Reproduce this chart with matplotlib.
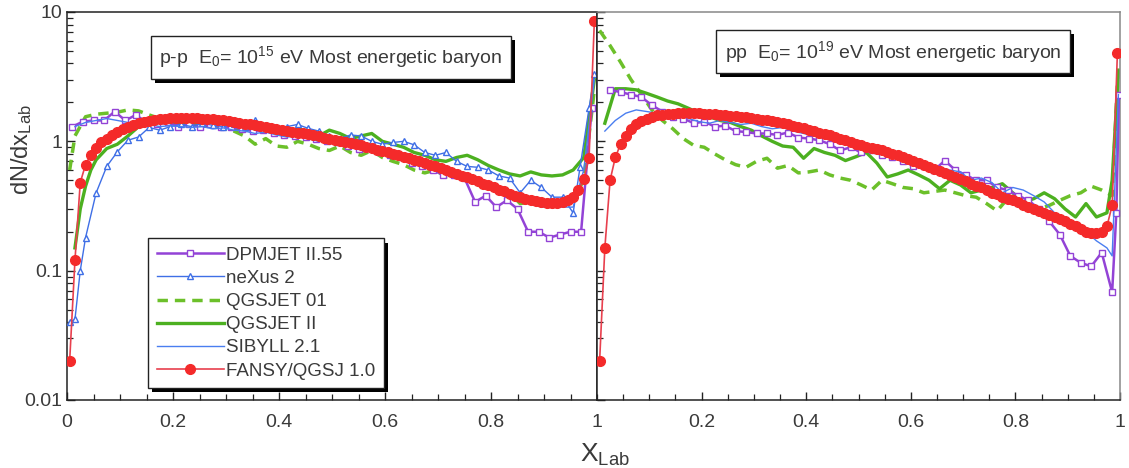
import numpy as np
import matplotlib
matplotlib.use("Agg")
import matplotlib.pyplot as plt
from matplotlib import patheffects as pe
from matplotlib.ticker import MultipleLocator, FixedLocator, NullFormatter, LogLocator

plt.rcParams['font.family'] = ['Liberation Sans', 'DejaVu Sans']
plt.rcParams['mathtext.fontset'] = 'custom'
plt.rcParams['mathtext.rm'] = 'Liberation Sans'
plt.rcParams['mathtext.it'] = 'Liberation Sans:italic'

# ---------------- data: left panel (E0 = 1e15 eV) ----------------
FANSY_L_X = np.round(np.arange(0.005, 1.0, 0.01), 3)
FANSY_L_Y = [0.02, 0.12, 0.48, 0.66, 0.79, 0.89, 0.98, 1.05, 1.12, 1.18,
             1.24, 1.29, 1.34, 1.38, 1.41, 1.44, 1.46, 1.48, 1.50, 1.51,
             1.52, 1.52, 1.52, 1.52, 1.51, 1.50, 1.49, 1.48, 1.46, 1.45,
             1.43, 1.41, 1.39, 1.37, 1.35, 1.33, 1.31, 1.29, 1.27, 1.25,
             1.23, 1.21, 1.19, 1.17, 1.15, 1.13, 1.11, 1.09, 1.07, 1.05,
             1.03, 1.01, 0.99, 0.97, 0.95, 0.93, 0.91, 0.89, 0.86, 0.84,
             0.82, 0.80, 0.78, 0.76, 0.74, 0.72, 0.70, 0.68, 0.66, 0.64,
             0.62, 0.60, 0.58, 0.56, 0.54, 0.53, 0.51, 0.49, 0.47, 0.46,
             0.44, 0.42, 0.41, 0.39, 0.38, 0.37, 0.36, 0.35, 0.345, 0.34,
             0.335, 0.335, 0.335, 0.34, 0.35, 0.37, 0.42, 0.51, 0.74, 8.5]

DPMJET_L_X = np.round(np.arange(0.01, 1.0, 0.02), 3)
DPMJET_L_Y = [1.3, 1.42, 1.45, 1.45, 1.7, 1.45, 1.6, 1.4, 1.35, 1.4,
              1.3, 1.35, 1.3, 1.35, 1.3, 1.28, 1.25, 1.2, 1.22, 1.15,
              1.12, 1.1, 1.08, 1.05, 1.0, 0.98, 0.92, 0.88, 0.9, 0.82,
              0.78, 0.75, 0.68, 0.65, 0.6, 0.55, 0.55, 0.52, 0.34, 0.38,
              0.31, 0.35, 0.3, 0.2, 0.2, 0.18, 0.19, 0.2, 0.2, 1.8]

NEXUS_L_X = np.round(np.concatenate([[0.005, 0.015, 0.025, 0.035],
                                     np.arange(0.055, 0.96, 0.02),
                                     [0.968, 0.985, 0.995]]), 3)
NEXUS_L_Y = [0.04, 0.042, 0.1, 0.18,
             0.4, 0.64, 0.83, 1.02, 1.08, 1.28, 1.22, 1.3, 1.35, 1.3,
             1.38, 1.33, 1.3, 1.35, 1.3, 1.45, 1.28, 1.25, 1.3, 1.35,
             1.26, 1.2, 1.1, 1.05, 1.12, 1.1, 1.0, 0.95, 0.98, 1.0,
             0.94, 0.82, 0.78, 0.82, 0.7, 0.64, 0.63, 0.6, 0.54, 0.52,
             0.4, 0.5, 0.44, 0.37, 0.37, 0.28,
             0.63, 1.8, 3.3]

QGSII_L_X = np.round(np.concatenate([[0.015, 0.025, 0.035, 0.045],
                                     np.arange(0.055, 0.96, 0.02),
                                     [0.975, 0.985, 0.995]]), 3)
QGSII_L_Y = [0.15, 0.3, 0.45, 0.6,
             0.72, 0.88, 0.95, 1.1, 1.3, 1.35, 1.5, 1.42, 1.35, 1.4,
             1.32, 1.35, 1.38, 1.25, 1.2, 1.3, 1.22, 1.15, 1.12, 1.25,
             1.2, 1.1, 1.22, 1.15, 1.05, 1.1, 1.15, 1.0, 0.95, 0.9,
             0.82, 0.78, 0.72, 0.7, 0.75, 0.78, 0.72, 0.65, 0.6, 0.56,
             0.54, 0.58, 0.55, 0.54, 0.55, 0.6,
             0.75, 1.5, 3.0]

QGS01_L_X = np.round(np.concatenate([[0.005, 0.015],
                                     np.arange(0.035, 0.96, 0.02),
                                     [0.975, 0.995]]), 3)
QGS01_L_Y = [0.6, 1.1,
             1.55, 1.62, 1.65, 1.68, 1.75, 1.72, 1.6, 1.5, 1.42, 1.38,
             1.32, 1.3, 1.35, 1.25, 1.2, 1.1, 0.95, 1.05, 0.92, 0.9,
             1.0, 0.95, 0.88, 0.85, 0.92, 0.82, 0.78, 0.85, 0.75, 0.7,
             0.66, 0.6, 0.57, 0.6, 0.53, 0.55, 0.5, 0.48, 0.45, 0.42,
             0.4, 0.33, 0.34, 0.33, 0.33, 0.34, 0.36,
             0.5, 2.5]

SIBYLL_L_X = np.round(np.concatenate([np.arange(0.015, 0.96, 0.02),
                                      [0.975, 0.995]]), 3)
SIBYLL_L_Y = [1.3, 1.4, 1.45, 1.5, 1.45, 1.4, 1.38, 1.35, 1.3, 1.32,
              1.3, 1.28, 1.3, 1.25, 1.27, 1.22, 1.2, 1.15, 1.18, 1.12,
              1.08, 1.1, 1.05, 1.0, 1.02, 0.95, 0.92, 0.9, 0.85, 0.82,
              0.8, 0.75, 0.72, 0.68, 0.62, 0.6, 0.58, 0.55, 0.5, 0.48,
              0.45, 0.42, 0.38, 0.33, 0.31, 0.31, 0.31, 0.31,
              0.6, 3.0]

# ---------------- data: right panel (E0 = 1e19 eV) ----------------
FANSY_R_X = np.round(np.arange(0.005, 1.0, 0.01), 3)
FANSY_R_Y = [0.02, 0.15, 0.5, 0.75, 0.95, 1.1, 1.25, 1.35, 1.43, 1.5,
             1.55, 1.59, 1.61, 1.63, 1.64, 1.65, 1.65, 1.65, 1.65, 1.65,
             1.64, 1.63, 1.62, 1.61, 1.60, 1.58, 1.57, 1.55, 1.53, 1.51,
             1.49, 1.47, 1.45, 1.43, 1.40, 1.38, 1.35, 1.32, 1.29, 1.26,
             1.23, 1.20, 1.17, 1.14, 1.11, 1.08, 1.05, 1.02, 0.99, 0.96,
             0.93, 0.91, 0.89, 0.87, 0.85, 0.83, 0.80, 0.78, 0.76, 0.73,
             0.71, 0.68, 0.66, 0.63, 0.61, 0.59, 0.57, 0.55, 0.53, 0.51,
             0.49, 0.47, 0.45, 0.44, 0.42, 0.40, 0.39, 0.37, 0.36, 0.35,
             0.34, 0.32, 0.31, 0.30, 0.29, 0.28, 0.27, 0.26, 0.25, 0.24,
             0.23, 0.22, 0.21, 0.20, 0.195, 0.195, 0.20, 0.22, 0.32, 4.8]

DPMJET_R_X = np.round(np.concatenate([np.arange(0.025, 0.97, 0.02),
                                      [0.985, 0.993, 0.998]]), 3)
DPMJET_R_Y = [2.5, 2.4, 2.3, 2.2, 1.9, 1.7, 1.55, 1.5, 1.38, 1.42,
              1.3, 1.32, 1.2, 1.18, 1.15, 1.15, 1.12, 1.17, 1.07, 1.05,
              1.02, 0.95, 0.85, 0.9, 0.82, 0.85, 0.78, 0.75, 0.7, 0.65,
              0.65, 0.6, 0.71, 0.6, 0.55, 0.5, 0.5, 0.44, 0.42, 0.38,
              0.35, 0.3, 0.24, 0.19, 0.13, 0.115, 0.108, 0.138,
              0.068, 0.28, 2.3]

QGSII_R_X = np.round(np.concatenate([np.arange(0.015, 0.98, 0.02),
                                     [0.985, 0.997]]), 3)
QGSII_R_Y = [1.38, 2.55, 2.55, 2.5, 2.35, 2.2, 2.05, 1.95, 1.8, 1.65,
             1.55, 1.45, 1.4, 1.3, 1.22, 1.1, 1.0, 0.92, 0.9, 0.74,
             0.88, 0.82, 0.78, 0.71, 0.76, 0.82, 0.68, 0.53, 0.56, 0.6,
             0.55, 0.5, 0.43, 0.5, 0.46, 0.4, 0.42, 0.44, 0.47, 0.4,
             0.34, 0.36, 0.4, 0.36, 0.3, 0.26, 0.33, 0.26, 0.28,
             0.5, 3.5]

QGS01_R_X = np.round(np.concatenate([np.arange(0.005, 0.97, 0.02),
                                     [0.985, 0.997]]), 3)
QGS01_R_Y = [7.2, 5.5, 4.1, 3.0, 2.3, 1.75, 1.45, 1.25, 1.05, 0.93,
             0.9, 0.8, 0.72, 0.66, 0.63, 0.7, 0.74, 0.62, 0.65, 0.57,
             0.58, 0.6, 0.55, 0.52, 0.5, 0.46, 0.42, 0.5, 0.47, 0.44,
             0.43, 0.4, 0.41, 0.42, 0.4, 0.38, 0.37, 0.33, 0.29, 0.36,
             0.34, 0.33, 0.3, 0.32, 0.35, 0.38, 0.4, 0.45, 0.42,
             0.38, 4.0]

SIBYLL_R_X = np.round(np.concatenate([np.arange(0.015, 0.98, 0.02),
                                      [0.985, 0.997]]), 3)
SIBYLL_R_Y = [1.2, 1.45, 1.65, 1.75, 1.7, 1.65, 1.62, 1.6, 1.5, 1.42,
              1.38, 1.45, 1.4, 1.35, 1.38, 1.3, 1.25, 1.28, 1.2, 1.15,
              1.1, 1.05, 1.0, 0.98, 0.92, 0.9, 0.85, 0.82, 0.78, 0.72,
              0.7, 0.68, 0.62, 0.6, 0.58, 0.5, 0.52, 0.48, 0.4, 0.44,
              0.42, 0.38, 0.34, 0.28, 0.25, 0.22, 0.2, 0.17, 0.15,
              0.13, 2.3]

LABELS = ["DPMJET II.55", "neXus 2", "QGSJET 01", "QGSJET II", "SIBYLL 2.1", "FANSY/QGSJ 1.0"]
TITLE_L = r"p-p  E$_0$= 10$^{15}$ eV Most energetic baryon"
TITLE_R = r"pp  E$_0$= 10$^{19}$ eV Most energetic baryon"
X_TICKS_L = [0, 0.2, 0.4, 0.6, 0.8, 1.0]
X_TICKLABELS_L = ["0", "0.2", "0.4", "0.6", "0.8", "1"]
X_TICKS_R = [0.2, 0.4, 0.6, 0.8, 1.0]
X_TICKLABELS_R = ["0.2", "0.4", "0.6", "0.8", "1"]
Y_TICKS = [0.01, 0.1, 1, 10]
Y_TICKLABELS = ["0.01", "0.1", "1", "10"]

# ---------------- styles ----------------
C_PURPLE = "#9343d6"
C_BLUE = "#3f6fe6"
C_GREEN_D = "#6cc02a"
C_GREEN = "#4cb020"
C_SIB = "#4a7ef0"
C_RED = "#f42a2a"
C_TEXT = "#3a3a3a"

fig = plt.figure(figsize=(11.29, 4.68), dpi=100)
W, H = 1129, 468
axL = fig.add_axes([67 / W, 68 / H, 530 / W, 388 / H])
axR = fig.add_axes([597 / W, 68 / H, 523 / W, 388 / H])


def draw(ax, series):
    handles = []
    for kind, x, y in series:
        if kind == "dpm":
            h, = ax.plot(x, y, color=C_PURPLE, lw=1.8, marker="s", ms=4.2,
                         mfc="white", mec=C_PURPLE, mew=1.0, zorder=3)
        elif kind == "nex":
            h, = ax.plot(x, y, color=C_BLUE, lw=1.0, marker="^", ms=4.5,
                         mfc="white", mec=C_BLUE, mew=1.0, zorder=3)
        elif kind == "q01":
            h, = ax.plot(x, y, color=C_GREEN_D, lw=2.5, ls=(0, (3, 2)), zorder=2)
        elif kind == "q2":
            h, = ax.plot(x, y, color=C_GREEN, lw=2.4, zorder=2)
        elif kind == "sib":
            h, = ax.plot(x, y, color=C_SIB, lw=1.0, zorder=3)
        elif kind == "fan":
            h, = ax.plot(x, y, color="#e8404e", lw=1.2, marker="o", ms=7,
                         mfc=C_RED, mec=C_RED, zorder=4)
        handles.append(h)
    return handles


hl = draw(axL, [("dpm", DPMJET_L_X, DPMJET_L_Y), ("nex", NEXUS_L_X, NEXUS_L_Y),
                ("q01", QGS01_L_X, QGS01_L_Y), ("q2", QGSII_L_X, QGSII_L_Y),
                ("sib", SIBYLL_L_X, SIBYLL_L_Y), ("fan", FANSY_L_X, FANSY_L_Y)])
draw(axR, [("dpm", DPMJET_R_X, DPMJET_R_Y),
           ("q01", QGS01_R_X, QGS01_R_Y), ("q2", QGSII_R_X, QGSII_R_Y),
           ("sib", SIBYLL_R_X, SIBYLL_R_Y), ("fan", FANSY_R_X, FANSY_R_Y)])

for ax, ticks, labels in [(axL, X_TICKS_L, X_TICKLABELS_L), (axR, X_TICKS_R, X_TICKLABELS_R)]:
    ax.set_yscale("log")
    ax.set_xlim(0, 1)
    ax.set_ylim(0.01, 10)
    ax.xaxis.set_major_locator(FixedLocator(ticks))
    ax.set_xticklabels(labels)
    ax.xaxis.set_minor_locator(MultipleLocator(0.05))
    ax.yaxis.set_major_locator(FixedLocator(Y_TICKS))
    ax.yaxis.set_minor_locator(LogLocator(base=10, subs=np.arange(2, 10)))
    ax.yaxis.set_minor_formatter(NullFormatter())
    ax.tick_params(which="both", direction="in", top=False, right=False,
                   colors="#222222", labelcolor=C_TEXT, labelsize=14)
    ax.tick_params(which="major", length=6, width=1.0)
    ax.tick_params(which="minor", length=4, width=0.9)
    ax.tick_params(axis="x", pad=10)

axL.set_yticklabels(Y_TICKLABELS)
axR.tick_params(axis="y", labelleft=False)
for s in axL.spines.values():
    s.set_color("#222222")
    s.set_linewidth(1.1)
for name, s in axR.spines.items():
    s.set_color("#222222" if name in ("left", "bottom") else "#888888")
    s.set_linewidth(1.1)

shadow = [pe.withSimplePatchShadow(offset=(3, -3), shadow_rgbFace="black", alpha=1.0)]

tL = axL.text(0.498, 0.883, TITLE_L, transform=axL.transAxes, ha="center", va="center",
              fontsize=14, color=C_TEXT,
              bbox=dict(boxstyle="square,pad=0.45", fc="white", ec="#222222", lw=1.0))
tL.get_bbox_patch().set_path_effects(shadow)
tR = axR.text(0.566, 0.898, TITLE_R, transform=axR.transAxes, ha="center", va="center",
              fontsize=14, color=C_TEXT,
              bbox=dict(boxstyle="square,pad=0.45", fc="white", ec="#222222", lw=1.0))
tR.get_bbox_patch().set_path_effects(shadow)

leg = axL.legend(hl, LABELS, loc="lower left", bbox_to_anchor=(0.153, 0.031),
                 borderaxespad=0, fontsize=13.5, handlelength=3.6, handletextpad=0.1,
                 labelspacing=0.32, borderpad=0.45, numpoints=1, fancybox=False,
                 framealpha=1, edgecolor="#222222", labelcolor=C_TEXT)
leg.get_frame().set_linewidth(1.0)
leg.get_frame().set_path_effects(shadow)

fig.text(22 / W, 1 - 150 / H, r"dN/dx$_{\mathrm{Lab}}$", rotation=90, ha="center", va="center",
         fontsize=17, color=C_TEXT)
fig.text(605 / W, 1 - 455 / H, r"X$_{\mathrm{Lab}}$", ha="center", va="center",
         fontsize=19, color=C_TEXT)

fig.savefig("out.png", dpi=100)
